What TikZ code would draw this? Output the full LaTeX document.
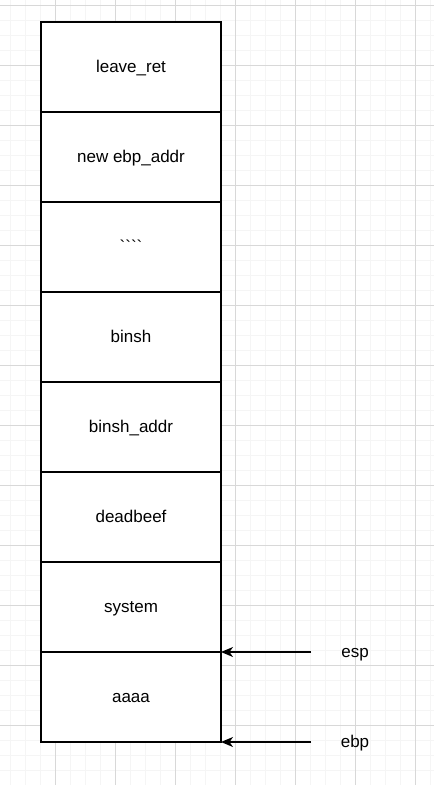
\documentclass[tikz,border=0pt]{standalone}
\usepackage{fontspec}
\setmainfont{Liberation Sans}
\usetikzlibrary{positioning, arrows.meta}
\definecolor{minorgrid}{RGB}{245,245,245}
\definecolor{majorgrid}{RGB}{216,216,216}

\begin{document}
\begin{tikzpicture}[x=1pt, y=-1pt, node distance=0pt,
    slot/.style={draw, line width=1.2pt, fill=white, minimum width=180pt, minimum height=90pt, inner sep=0pt, outer sep=0pt, font=\fontsize{17}{20}\selectfont, text height=15.4pt, text depth=3.6pt},
    ptr/.style={-{Stealth[length=12pt, width=10pt, inset=3.5pt]}, line width=1.2pt},
    tag/.style={font=\fontsize{17}{20}\selectfont, text height=15.4pt, text depth=3.6pt, inner sep=0pt}]
    \useasboundingbox (0,0) rectangle (434,785);
    \fill[white] (0,0) rectangle (434,785);

    % background grid
    \foreach \x in {10,25,...,430} \draw[minorgrid, line width=1pt] (\x,0) -- (\x,785);
    \foreach \y in {5,20,...,785} \draw[minorgrid, line width=1pt] (0,\y) -- (434,\y);
    \foreach \x in {55,115,...,415} \draw[majorgrid, line width=1pt] (\x,0) -- (\x,785);
    \foreach \y in {5,65,...,785} \draw[majorgrid, line width=1pt] (0,\y) -- (434,\y);

    % stack slots
    \node [slot] (leave) at (131,67) {leave\_ret};
    \node [slot, below=of leave] (newebp) {new ebp\_addr};
    \node [slot, below=of newebp] (dots) {\textasciigrave\textasciigrave\textasciigrave\textasciigrave};
    \node [slot, below=of dots] (binsh) {binsh};
    \node [slot, below=of binsh] (binshaddr) {binsh\_addr};
    \node [slot, below=of binshaddr] (deadbeef) {deadbeef};
    \node [slot, below=of deadbeef] (system) {system};
    \node [slot, below=of system] (aaaa) {aaaa};

    % pointers
    \coordinate (esptail) at (311,652);
    \coordinate (ebptail) at (311,742);
    \node [tag] (esp) at (355,652) {esp};
    \node [tag] (ebp) at (355,742) {ebp};
    \draw[ptr] (esptail) -- (system.south east);
    \draw[ptr] (ebptail) -- (aaaa.south east);
\end{tikzpicture}
\end{document}
